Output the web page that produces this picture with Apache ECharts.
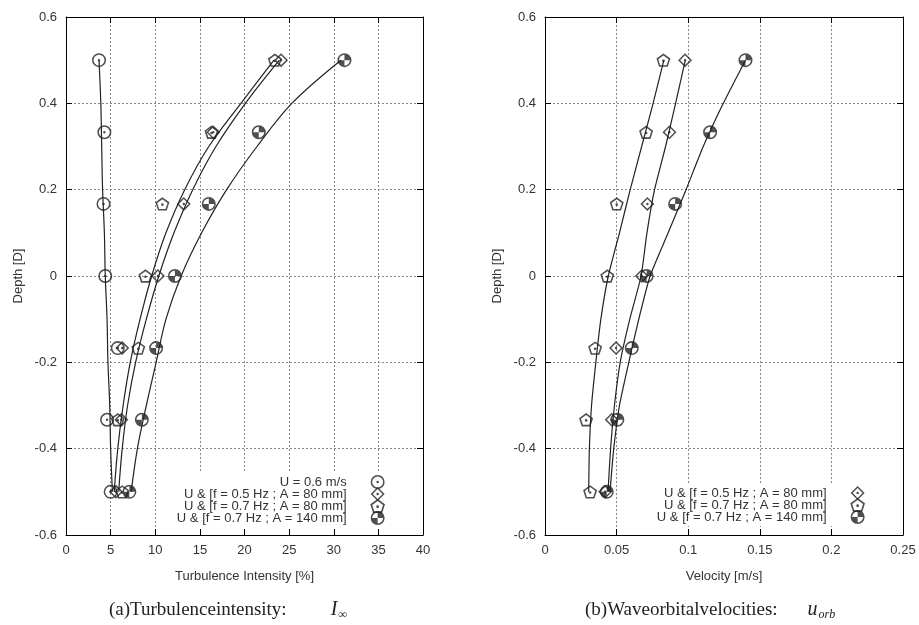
<!DOCTYPE html>
<html lang="en">
  <head>
    <meta charset="utf-8" />
    <title>Turbulence intensity and wave orbital velocities</title>
    <script type="text/javascript" src="https://cdn.jsdelivr.net/npm/echarts@6.0.0/dist/echarts.min.js"></script>
    <style>
      html, body { margin: 0; padding: 0; background: #fff; }
      #chart { width: 919px; height: 625px; }
    </style>
  </head>
  <body>
    <div id="chart"></div>
    <script>
      // measured depths [D] and the depths where the fitted curves were read
      var depthLevels = [0.5, 0.333, 0.167, 0, -0.167, -0.333, -0.5]
      var fitDepth = [0.5, 0.4, 0.3, 0.2, 0.1, 0, -0.1, -0.2, -0.3, -0.4, -0.5]

      var seriesNames = [
        'U = 0.6 m/s',
        'U & [f = 0.5 Hz ; A = 80 mm]',
        'U & [f = 0.7 Hz ; A = 80 mm]',
        'U & [f = 0.7 Hz ; A = 140 mm]'
      ]

      // axis ranges: [min, max, interval]
      var depthRange = [-0.6, 0.6, 0.2]
      var tiRange = [0, 40, 5]
      var velRange = [0, 0.25, 0.05]

      // (a) turbulence intensity [%], measured
      var tiU06 = [3.7, 4.3, 4.2, 4.4, 5.8, 4.6, 5.0]
      var tiF05A80 = [24.1, 16.5, 13.2, 10.3, 6.3, 6.2, 5.6]
      var tiF07A80 = [23.4, 16.3, 10.8, 8.9, 8.1, 5.8, 6.3]
      var tiF07A140 = [31.2, 21.6, 16.0, 12.2, 10.1, 8.5, 7.1]

      // (a) fitted curves, read at fitDepth
      var tiFitU06 = [3.7, 3.9, 4.0, 4.1, 4.3, 4.4, 4.6, 4.7, 4.9, 5.0, 5.2]
      var tiFitF05A80 = [23.9, 20.1, 16.8, 14.2, 12.1, 10.4, 9.0, 7.8, 6.9, 6.3, 5.9]
      var tiFitF07A80 = [23.3, 19.6, 16.0, 13.3, 11.2, 9.6, 8.3, 7.2, 6.4, 5.8, 5.4]
      var tiFitF07A140 = [30.8, 25.3, 21.4, 18.0, 15.2, 12.9, 11.2, 10.1, 9.0, 8.0, 7.3]

      // (b) wave orbital velocity [m/s], measured
      var velF05A80 = [0.0978, 0.0869, 0.0715, 0.0676, 0.0496, 0.0466, 0.042]
      var velF07A80 = [0.0827, 0.0706, 0.0501, 0.0435, 0.035, 0.0287, 0.0315]
      var velF07A140 = [0.14, 0.1153, 0.0909, 0.071, 0.0606, 0.0505, 0.0431]

      // (b) fitted curves, read at fitDepth
      var velFitF05A80 = [0.098, 0.0912, 0.0842, 0.0765, 0.0712, 0.0671, 0.0592, 0.0525, 0.0485, 0.0458, 0.044]
      var velFitF07A80 = [0.083, 0.0755, 0.0675, 0.0595, 0.052, 0.0442, 0.039, 0.0355, 0.0325, 0.031, 0.0305]
      var velFitF07A140 = [0.14, 0.1245, 0.1105, 0.0985, 0.086, 0.0734, 0.0655, 0.0585, 0.052, 0.048, 0.0454]

      // open markers with a dot, gnuplot style
      var DOT = ' M-1.8,0 A1.8,1.8 0 1,0 1.8,0 A1.8,1.8 0 1,0 -1.8,0 Z'
      var RING = 'M-10,0 A10,10 0 1,0 10,0 A10,10 0 1,0 -10,0 Z M-7.8,0 A7.8,7.8 0 1,1 7.8,0 A7.8,7.8 0 1,1 -7.8,0 Z'
      var symbols = [
        'path://' + RING + DOT,
        'path://M0,-10 L10,0 L0,10 L-10,0 Z M0,-7 L-7,0 L0,7 L7,0 Z' + DOT,
        'path://M0,-10 L9.51,-3.09 L5.88,8.09 L-5.88,8.09 L-9.51,-3.09 Z M0,-7.4 L-7.04,-2.29 L-4.35,5.99 L4.35,5.99 L7.04,-2.29 Z' + DOT,
        'path://' + RING + ' M0,0 L0,-7.8 A7.8,7.8 0 0,1 7.8,0 Z M0,0 L0,7.8 A7.8,7.8 0 0,1 -7.8,0 Z'
      ]

      var ink = '#222'
      var labelFont = { fontFamily: 'Liberation Sans', fontSize: 13, color: '#333' }

      function pairs(values, depths) {
        return values.map(function (v, i) { return [v, depths[i]] })
      }

      function fitLine(values, grid, smooth) {
        return {
          type: 'line', xAxisIndex: grid * 2, yAxisIndex: grid * 2,
          data: pairs(values, fitDepth), smooth: smooth,
          showSymbol: false, silent: true,
          lineStyle: { color: ink, width: 1.2 }, z: 2
        }
      }

      function markers(values, k, grid) {
        return {
          type: 'scatter', name: seriesNames[k], xAxisIndex: grid * 2, yAxisIndex: grid * 2,
          data: pairs(values, depthLevels), symbol: symbols[k], symbolSize: 14,
          symbolKeepAspect: true, itemStyle: { color: ink }, z: 3
        }
      }

      function mainX(grid, range, name) {
        return {
          type: 'value', gridIndex: grid, position: 'bottom',
          min: range[0], max: range[1], interval: range[2],
          name: name, nameLocation: 'middle', nameGap: 35, nameTextStyle: labelFont,
          axisLine: { onZero: false, lineStyle: { color: '#000', width: 1 } },
          axisTick: { inside: true, length: 6, lineStyle: { color: '#000' } },
          axisLabel: Object.assign({ margin: 9 }, labelFont),
          splitLine: { lineStyle: { color: '#888', type: [2, 2], width: 1 } }
        }
      }
      function mainY(grid, name) {
        return {
          type: 'value', gridIndex: grid, position: 'left',
          min: depthRange[0], max: depthRange[1], interval: depthRange[2],
          name: name, nameLocation: 'middle', nameGap: 41, nameTextStyle: labelFont,
          axisLine: { onZero: false, lineStyle: { color: '#000', width: 1 } },
          axisTick: { inside: true, length: 6, lineStyle: { color: '#000' } },
          axisLabel: Object.assign({ margin: 9 }, labelFont),
          splitLine: { lineStyle: { color: '#888', type: [2, 2], width: 1 } }
        }
      }
      function mirror(axis, position) {
        return Object.assign({}, axis, {
          position: position, name: '', axisLabel: { show: false }, splitLine: { show: false }
        })
      }

      var xTI = mainX(0, tiRange, 'Turbulence Intensity [%]')
      var xVel = mainX(1, velRange, 'Velocity [m/s]')
      var yLeft = mainY(0, 'Depth [D]')
      var yRight = mainY(1, 'Depth [D]')

      var legendBase = {
        orient: 'vertical', align: 'right', itemWidth: 52, itemHeight: 14, itemGap: -2,
        backgroundColor: '#fff', padding: [2, 0, 2, 4], selectedMode: false,
        textStyle: Object.assign({ lineHeight: 10 }, labelFont)
      }

      var captionStyle = {
        fontFamily: 'Liberation Serif', fontSize: 19, fontWeight: 'normal', color: ink,
        rich: {
          gap: { width: 44 },
          i: { fontFamily: 'Liberation Serif', fontStyle: 'italic', fontSize: 20, color: ink },
          s: { fontFamily: 'Liberation Serif', fontStyle: 'italic', fontSize: 12, color: ink, padding: [10, 0, 0, 1] }
        }
      }

      var chart = echarts.init(document.getElementById('chart'))
      chart.setOption({
        animation: false,
        backgroundColor: '#fff',
        title: [
          { text: '(a)Turbulenceintensity:{gap|}{i|I}{s|∞}', left: 104, top: 594, textStyle: captionStyle },
          { text: '(b)Waveorbitalvelocities:{gap|}{i|u}{s|orb}', left: 580, top: 594,
            textStyle: Object.assign({}, captionStyle, { rich: Object.assign({}, captionStyle.rich, { gap: { width: 30 } }) }) }
        ],
        grid: [
          { left: 66, top: 17, width: 357, height: 518 },
          { left: 545, top: 17, width: 358, height: 518 }
        ],
        xAxis: [xTI, mirror(xTI, 'top'), xVel, mirror(xVel, 'top')],
        yAxis: [yLeft, mirror(yLeft, 'right'), yRight, mirror(yRight, 'right')],
        legend: [
          Object.assign({}, legendBase, { data: seriesNames, right: 534, top: 473 }),
          Object.assign({}, legendBase, { data: seriesNames.slice(1), right: 54, top: 484 })
        ],
        series: [
          fitLine(tiFitU06, 0, 0.35),
          fitLine(tiFitF05A80, 0, 0.35),
          fitLine(tiFitF07A80, 0, 0.35),
          fitLine(tiFitF07A140, 0, 0.35),
          markers(tiU06, 0, 0),
          markers(tiF05A80, 1, 0),
          markers(tiF07A80, 2, 0),
          markers(tiF07A140, 3, 0),
          fitLine(velFitF05A80, 1, 0.2),
          fitLine(velFitF07A80, 1, 0.2),
          fitLine(velFitF07A140, 1, 0.2),
          markers(velF05A80, 1, 1),
          markers(velF07A80, 2, 1),
          markers(velF07A140, 3, 1)
        ]
      })
    </script>
  </body>
</html>
